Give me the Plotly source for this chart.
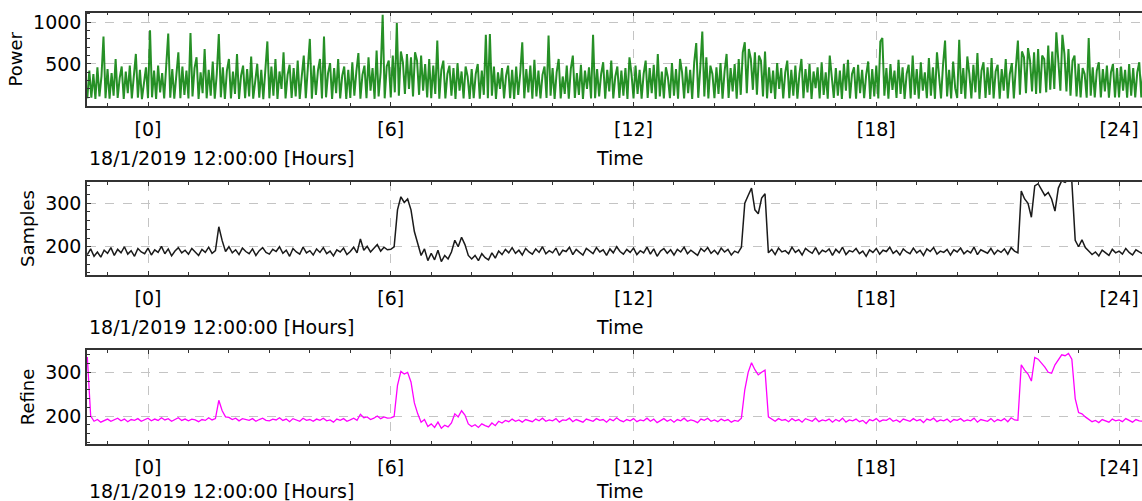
import plotly.graph_objects as go

# ---------------- data ----------------
POWER_T0 = -1.5          # hours relative to 18/1/2019 12:00:00
POWER_STEP_H = 0.05      # 3-minute samples
power = [
    88, 420, 95, 380, 82, 460, 110, 350, 830, 90,
    440, 85, 390, 120, 560, 92, 330, 470, 80, 410, 150, 480, 88, 360, 620, 95, 430, 78, 300, 460,
    90, 905, 100, 420, 82, 480, 160, 390, 86, 560, 865, 95, 440, 84, 370, 640, 90, 470, 130, 420,
    86, 870, 110, 450, 580, 80, 400, 150, 680, 88, 430, 120, 530, 84, 380, 860, 100, 460, 80, 420,
    560, 86, 410, 140, 620, 82, 360, 480, 90, 440, 110, 590, 84, 330, 500, 96, 430, 78, 390, 770,
    88, 470, 120, 560, 82, 410, 200, 640, 86, 370, 490, 94, 450, 110, 540, 80, 350, 600, 90, 430,
    800, 84, 480, 130, 420, 560, 86, 830, 100, 390, 510, 82, 450, 150, 560, 88, 360, 470, 80, 430,
    92, 520, 120, 410, 630, 84, 370, 480, 90, 580, 180, 450, 82, 660, 110, 400, 1090, 88, 470, 540,
    100, 600, 160, 990, 120, 650, 520, 140, 620, 200, 580, 110, 640, 540, 130, 600, 180, 500, 100, 560,
    90, 480, 140, 780, 84, 430, 540, 88, 380, 480, 120, 450, 82, 510, 180, 410, 86, 470, 350, 80,
    440, 90, 380, 500, 84, 420, 130, 850, 88, 860, 120, 470, 82, 400, 200, 450, 86, 360, 480, 90,
    430, 82, 470, 130, 390, 760, 88, 440, 160, 480, 84, 550, 110, 420, 86, 370, 470, 92, 840, 120,
    450, 82, 400, 560, 88, 350, 140, 480, 84, 440, 600, 94, 390, 130, 490, 80, 420, 200, 460, 86,
    850, 90, 440, 110, 380, 520, 83, 430, 170, 540, 86, 350, 470, 92, 420, 120, 450, 82, 580, 380,
    88, 480, 140, 430, 84, 380, 540, 92, 450, 150, 490, 82, 620, 110, 410, 86, 460, 340, 90, 510,
    120, 440, 84, 560, 400, 88, 470, 150, 430, 82, 520, 750, 94, 450, 890, 110, 580, 86, 480, 380,
    90, 460, 140, 510, 83, 410, 620, 92, 450, 170, 500, 84, 560, 130, 640, 760, 150, 680, 560, 190,
    640, 130, 600, 540, 110, 650, 88, 460, 150, 420, 82, 510, 200, 450, 86, 400, 540, 90, 430, 120,
    480, 84, 380, 560, 90, 440, 160, 500, 82, 410, 210, 460, 88, 520, 130, 400, 84, 600, 360, 92,
    450, 120, 420, 82, 500, 180, 550, 88, 380, 460, 84, 490, 150, 430, 90, 370, 530, 82, 440, 110,
    480, 86, 770, 810, 120, 450, 84, 500, 190, 420, 92, 550, 140, 460, 82, 380, 490, 88, 600, 130,
    440, 84, 520, 180, 400, 90, 570, 120, 460, 82, 640, 360, 88, 490, 780, 110, 430, 86, 530, 210,
    92, 790, 140, 450, 84, 590, 380, 88, 490, 160, 630, 82, 420, 520, 94, 460, 130, 570, 86, 410,
    490, 84, 440, 180, 560, 88, 380, 510, 86, 460, 780, 130, 650, 580, 150, 690, 540, 170, 640, 140,
    680, 150, 600, 560, 160, 720, 190, 650, 200, 880, 580, 180, 850, 620, 170, 680, 120, 540, 600, 110,
    500, 100, 450, 380, 96, 810, 120, 460, 100, 420, 520, 98, 440, 170, 480, 96, 400, 500, 100, 450,
    98, 470, 180, 430, 95, 500, 120, 450, 100, 400, 520, 98, 440,
]

SAMPLES_T0 = -1.5
SAMPLES_STEP_H = 1 / 12  # 5-minute samples
samples = [
    182, 195, 178, 188, 176, 192,
    185, 198, 180, 194, 186, 200, 183, 191, 178, 196, 188, 184,
    197, 181, 193, 187, 201, 184, 195, 179, 190, 198, 186, 192,
    183, 196, 188, 180, 194, 187, 199, 185, 191, 246, 214, 189,
    200, 186, 193, 182, 197, 189, 184, 195, 180, 191, 198, 187,
    183, 194, 189, 200, 185, 192, 178, 196, 188, 183, 199, 186,
    191, 181, 195, 187, 198, 184, 190, 179, 193, 188, 197, 182,
    189, 199, 186, 218, 192, 201, 188, 196, 205, 190, 199, 193,
    194, 200, 285, 315, 302, 310, 285, 235, 205, 180, 195, 168,
    185, 170, 192, 166, 180, 172, 188, 215, 200, 222, 205, 180,
    172, 180, 168, 184, 175, 170, 186, 174, 190, 182, 194, 186,
    198, 185, 192, 181, 196, 188, 183, 195, 187, 200, 184, 191,
    186, 197, 180, 192, 189, 199, 182, 194, 187, 181, 196, 190,
    184, 198, 188, 193, 180, 195, 186, 200, 189, 183, 194, 187,
    197, 182, 191, 186, 199, 183, 195, 178, 190, 196, 185, 193,
    181, 194, 188, 199, 184, 192, 187, 180, 196, 189, 198, 185,
    192, 183, 197, 188, 194, 181, 190, 186, 199, 300, 318, 335,
    285, 276, 312, 322, 186, 194, 182, 197, 188, 191, 184, 199,
    187, 193, 181, 196, 190, 185, 198, 183, 192, 188, 195, 180,
    194, 186, 199, 182, 191, 188, 196, 184, 190, 178, 193, 187,
    196, 183, 192, 189, 199, 185, 191, 181, 195, 188, 184, 197,
    186, 192, 180, 195, 189, 198, 183, 190, 187, 194, 181, 193,
    188, 197, 184, 191, 186, 199, 182, 193, 189, 185, 196, 183,
    192, 187, 195, 183, 198, 190, 186, 328, 310, 300, 268, 340,
    345, 332, 318, 325, 310, 282, 335, 352, 348, 355, 350, 215,
    200, 216, 198, 190, 182, 188, 179, 192, 185, 180, 194, 186,
    190, 183, 196, 187, 181, 193, 188, 184,
]

refine = [
    335, 200, 188, 192, 186, 190,
    193, 188, 191, 195, 189, 193, 187, 192, 190, 194, 188, 191,
    195, 189, 193, 190, 196, 191, 194, 188, 192, 196, 190, 193,
    189, 193, 191, 187, 192, 190, 196, 191, 194, 236, 212, 198,
    197, 192, 195, 189, 194, 192, 190, 194, 188, 192, 195, 190,
    189, 193, 191, 196, 190, 193, 187, 194, 191, 188, 195, 190,
    192, 188, 193, 190, 195, 189, 191, 186, 193, 190, 194, 188,
    191, 195, 190, 204, 196, 198, 192, 195, 200, 194, 198, 195,
    196, 199, 270, 302, 296, 300, 278, 230, 205, 186, 192, 176,
    182, 174, 186, 172, 179, 175, 184, 205, 198, 212, 202, 182,
    176, 180, 174, 182, 178, 175, 184, 178, 188, 184, 190, 187,
    193, 188, 191, 186, 192, 190, 187, 193, 189, 195, 188, 191,
    189, 194, 186, 191, 190, 195, 187, 192, 189, 186, 193, 190,
    188, 194, 190, 192, 186, 193, 189, 196, 190, 187, 192, 189,
    194, 187, 191, 189, 195, 188, 193, 185, 190, 194, 188, 192,
    186, 192, 189, 195, 188, 191, 189, 185, 193, 190, 195, 188,
    191, 187, 193, 189, 192, 186, 190, 188, 195, 260, 300, 322,
    306, 294, 300, 305, 198, 192, 188, 194, 190, 192, 187, 194,
    189, 192, 186, 194, 191, 188, 195, 187, 191, 189, 193, 186,
    192, 188, 195, 186, 191, 189, 193, 187, 190, 183, 192, 189,
    194, 187, 191, 190, 195, 188, 191, 186, 193, 190, 188, 194,
    189, 192, 185, 193, 190, 195, 187, 191, 189, 193, 186, 192,
    190, 194, 188, 191, 189, 195, 186, 192, 190, 188, 194, 187,
    192, 189, 194, 187, 196, 191, 190, 317, 305, 296, 280, 334,
    330, 322, 312, 300, 298, 317, 330, 340, 338, 343, 330, 240,
    208, 205, 198, 192, 187, 190, 185, 192, 189, 186, 193, 189,
    191, 187, 194, 190, 186, 192, 189, 188,
]

x_tick_vals = [0, 6, 12, 18, 24]
x_tick_text = ["[0]", "[6]", "[12]", "[18]", "[24]"]
power_ticks = [500, 1000]
samples_ticks = [200, 300]
refine_ticks = [200, 300]
x_caption = "18/1/2019 12:00:00 [Hours]"
x_title = "Time"
y_titles = ["Power", "Samples", "Refine"]

# ---------------- figure ----------------
W, H = 1142, 501
L = 87
FONT = "DejaVu Sans"
AX = "#333333"
GRID = "#c4c4c4"

power_t = [POWER_T0 + i * POWER_STEP_H for i in range(len(power))]
samp_t = [SAMPLES_T0 + i * SAMPLES_STEP_H for i in range(len(samples))]
ref_t = [SAMPLES_T0 + i * SAMPLES_STEP_H for i in range(len(refine))]

# panel pixel boxes (top, bottom) and caption offsets below each panel
panels = [(12.5, 106), (182, 275), (350, 444)]
caption_gap = [52, 52, 47]
yranges = [[-4, 1117], [135, 349], [136, 351]]
yticks = [power_ticks, samples_ticks, refine_ticks]
yminor = [100, 20, 20]
xr = [(L - 148) / 40.46, (W - 148) / 40.46]

fig = go.Figure()
fig.add_trace(go.Scatter(x=power_t, y=power, mode="lines",
                         line=dict(color="rgba(0,125,0,0.85)", width=2.0),
                         xaxis="x", yaxis="y", hoverinfo="skip"))
fig.add_trace(go.Scatter(x=samp_t, y=samples, mode="lines",
                         line=dict(color="#1a1a1a", width=1.5),
                         xaxis="x2", yaxis="y2", hoverinfo="skip"))
fig.add_trace(go.Scatter(x=ref_t, y=refine, mode="lines",
                         line=dict(color="#ff00ff", width=1.3),
                         xaxis="x3", yaxis="y3", hoverinfo="skip"))

layout = dict(width=W, height=H, margin=dict(l=L, r=0, t=0, b=0, autoexpand=False),
              paper_bgcolor="white", plot_bgcolor="white", showlegend=False,
              font=dict(family=FONT, color="black"))
annotations = []
for i, (top, bot) in enumerate(panels):
    sfx = "" if i == 0 else str(i + 1)
    dom = [1 - bot / H, 1 - top / H]
    layout["xaxis" + sfx] = dict(
        domain=[0, 1], range=xr, anchor="y" + sfx, automargin=False,
        tickmode="array", tickvals=x_tick_vals, ticktext=x_tick_text,
        ticks="inside", ticklen=4, tickcolor=AX, tickwidth=1,
        showline=True, linecolor=AX, linewidth=1.5, mirror="ticks",
        showgrid=True, gridcolor=GRID, griddash="dash", gridwidth=1,
        zeroline=False, tickfont=dict(family=FONT, size=19, color="black"),
        ticklabelstandoff=5,
        minor=dict(tick0=0, dtick=1, ticks="inside", ticklen=3, tickcolor=AX, showgrid=False),
    )
    layout["yaxis" + sfx] = dict(
        domain=dom, range=yranges[i], anchor="x" + sfx, automargin=False,
        tickmode="array", tickvals=yticks[i],
        ticks="inside", ticklen=4, tickcolor=AX,
        showline=True, linecolor=AX, linewidth=1.5, mirror=False,
        showgrid=True, gridcolor=GRID, griddash="dash", gridwidth=1,
        zeroline=False, tickfont=dict(family=FONT, size=19, color="black"),
        title=dict(text=y_titles[i], font=dict(family=FONT, size=18, color="black"), standoff=6),
        minor=dict(tick0=0, dtick=yminor[i], ticks="inside", ticklen=3, tickcolor=AX, showgrid=False),
    )
    cy = 1 - (bot + caption_gap[i]) / H
    annotations.append(dict(text=x_caption, xref="paper", yref="paper", x=0, y=cy,
                            xanchor="left", yanchor="middle", showarrow=False,
                            font=dict(family=FONT, size=19, color="black")))
    annotations.append(dict(text=x_title, xref="paper", yref="paper", x=(620 - L) / (W - L), y=cy,
                            xanchor="center", yanchor="middle", showarrow=False,
                            font=dict(family=FONT, size=19, color="black")))
layout["annotations"] = annotations
fig.update_layout(**layout)

fig.write_html("out.html", config={"displayModeBar": False},
               post_script="document.body.style.margin='0px';document.body.style.overflow='hidden';")
